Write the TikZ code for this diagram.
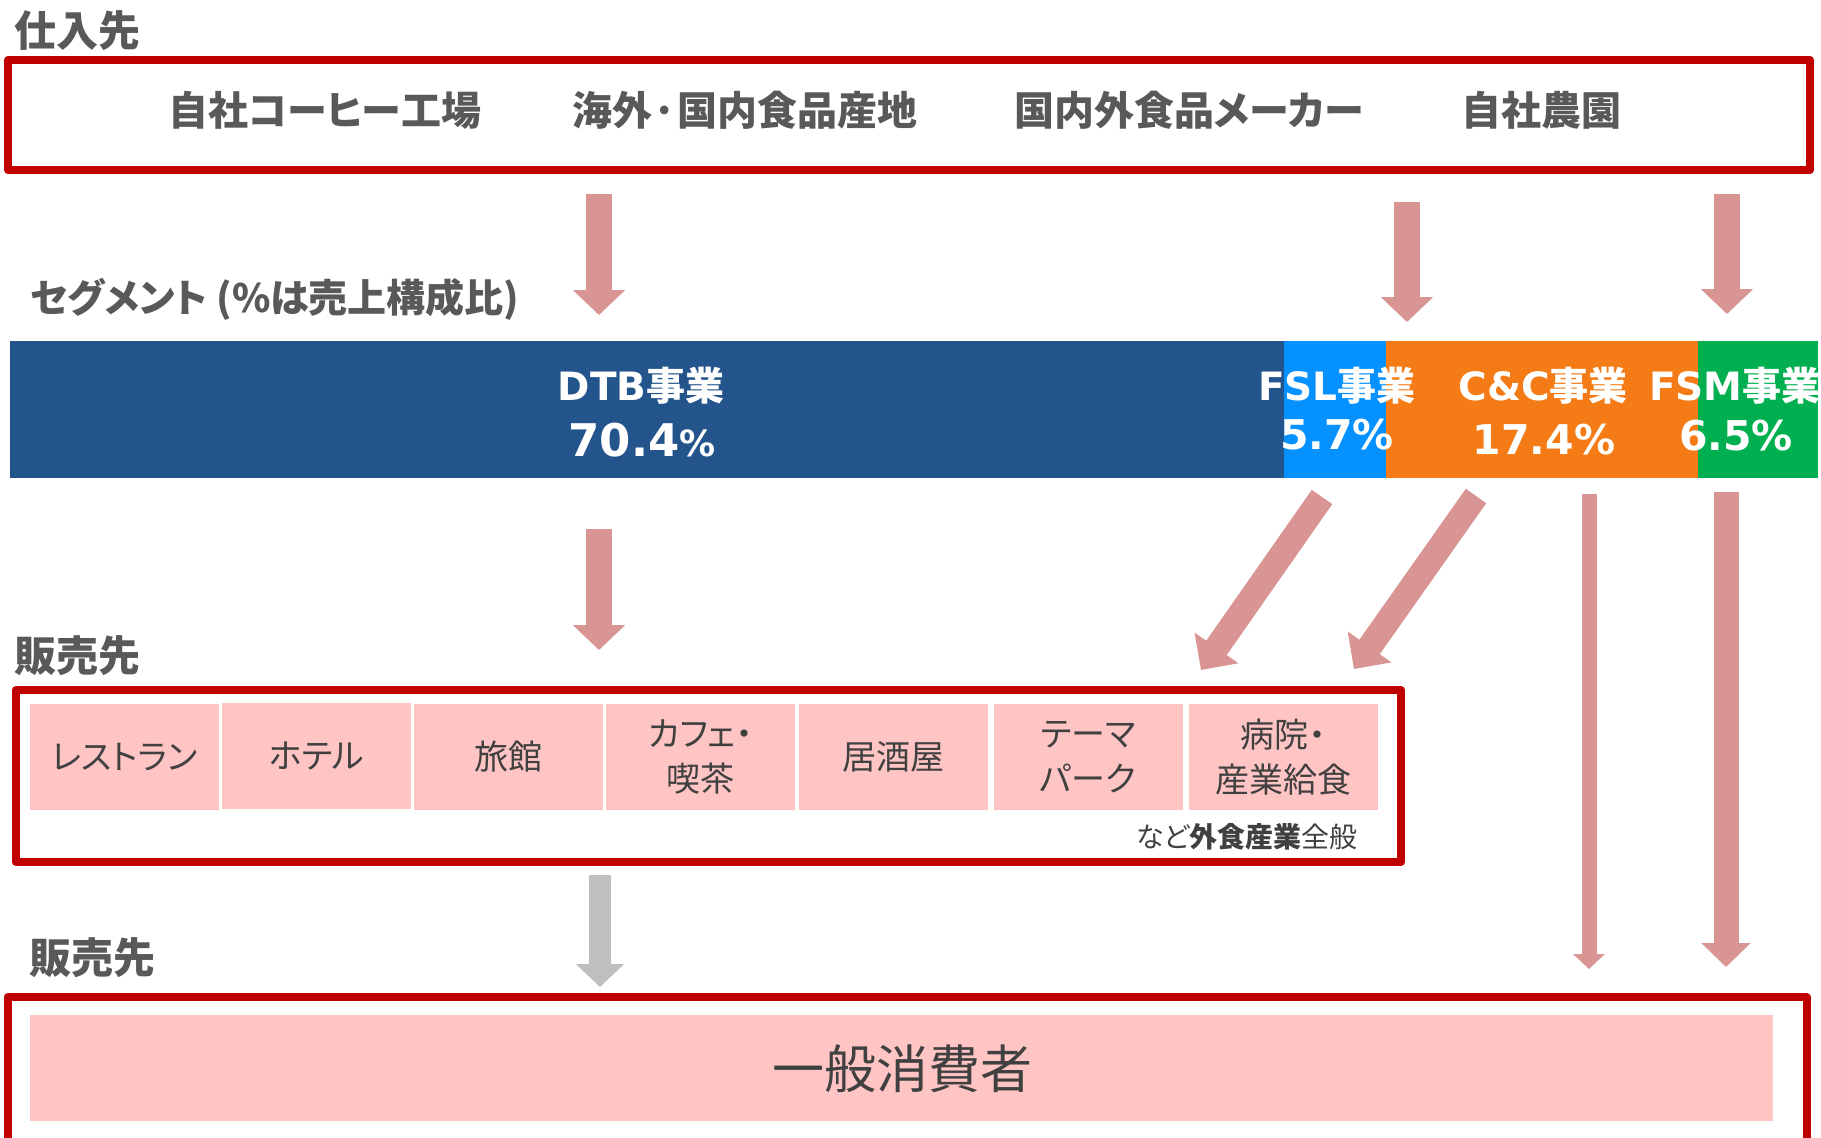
\documentclass[tikz,border=0pt]{standalone}
\usepackage{fontspec}
\setmainfont[RawFeature=+palt]{Noto Sans CJK JP}
\newfontfamily\dvfont{DejaVu Sans}
\usetikzlibrary{arrows.meta}
\definecolor{boxred}{HTML}{C00000}
\definecolor{arrpink}{HTML}{D99594}
\definecolor{arrgray}{HTML}{BFBFBF}
\definecolor{txtgray}{HTML}{595959}
\definecolor{txtdark}{HTML}{404040}
\definecolor{cellpink}{HTML}{FFC4C4}
\definecolor{dtbblue}{HTML}{23548C}
\definecolor{fslblue}{HTML}{0591FF}
\definecolor{ccorange}{HTML}{F47B16}
\definecolor{fsmgreen}{HTML}{00B050}
\tikzset{
  redbox/.style={draw=boxred, line width=8pt, line join=round},
  parrow/.style={draw=arrpink, line width=26pt, -{Triangle[width=51pt,length=25pt]}},
  darrow/.style={draw=arrpink, line width=25pt, -{Triangle[width=52pt,length=27pt]}},
  tarrow/.style={draw=arrpink, line width=15pt, -{Triangle[width=31pt,length=15pt]}},
  warrow/.style={draw=arrpink, line width=25pt, -{Triangle[width=48pt,length=24pt]}},
  garrow/.style={draw=arrgray, line width=22pt, -{Triangle[width=47pt,length=23pt]}},
  labtext/.style={inner sep=0pt, anchor=west, text=txtgray, font=\fontsize{42}{44}\selectfont\bfseries},
  suptext/.style={inner sep=0pt, text=txtgray, font=\fontsize{40}{42}\selectfont\bfseries},
  segtext/.style={inner sep=0pt, text=white, font=\fontsize{39}{41}\selectfont\bfseries},
  numtext/.style={inner sep=0pt, text=white, font=\dvfont\bfseries\fontsize{41}{43}\selectfont},
  cellbox/.style={fill=cellpink, minimum width=189pt, minimum height=106pt, inner sep=0pt,
    align=center, text=txtdark, font=\fontsize{34}{45}\selectfont},
}
\begin{document}
\begin{tikzpicture}[x=1pt,y=-1pt]
\clip (0,0) rectangle (1821,1138);
\fill[white] (0,0) rectangle (1821,1138);

% ---- suppliers ----
\node[labtext] (suplab) at (14,31) {仕入先};
\draw[redbox] (8,60) rectangle (1810,170);
\node[suptext] (sup1) at (325,110) {自社コーヒー工場};
\node[suptext] (sup2) at (745,110) {海外·国内食品産地};
\node[suptext] (sup3) at (1189,110) {国内外食品メーカー};
\node[suptext] (sup4) at (1541,110) {自社農園};

\coordinate (a1s) at (599,194);  \coordinate (a1e) at (599,315);
\coordinate (a2s) at (1407,202); \coordinate (a2e) at (1407,322);
\coordinate (a3s) at (1727,194); \coordinate (a3e) at (1727,314);
\draw[parrow] (a1s) -- (a1e);
\draw[parrow] (a2s) -- (a2e);
\draw[parrow] (a3s) -- (a3e);

% ---- segments ----
\node[labtext, font=\fontsize{39}{41}\selectfont\bfseries] (seglab) at (30,299) {セグメント (\%は売上構成比)};
\fill[dtbblue] (10,341) rectangle (1285,478);
\fill[fslblue] (1284,341) rectangle (1387,478);
\fill[ccorange] (1386,341) rectangle (1699,478);
\fill[fsmgreen] (1698,341) rectangle (1818,478);

\node[segtext] (dtbname) at (641,386) {{\dvfont DTB}事業};
\node[numtext] (dtbpct) at (642,440) {\fontsize{45}{47}\selectfont 70.4{\fontsize{36}{38}\selectfont\%}};
\node[segtext] (fslname) at (1337,386) {{\dvfont FSL}事業};
\node[numtext] (fslpct) at (1337,435) {5.7\%};
\node[segtext] (ccname) at (1543,386) {{\dvfont C\&C}事業};
\node[numtext] (ccpct) at (1544,440) {17.4\%};
\node[segtext] (fsmname) at (1735,386) {{\dvfont FSM}事業};
\node[numtext] (fsmpct) at (1736,436) {6.5\%};

% ---- arrows below bar ----
\coordinate (b1s) at (599,529);  \coordinate (b1e) at (599,650);
\coordinate (d1s) at (1322,497); \coordinate (d1e) at (1201,670);
\coordinate (d2s) at (1476,496); \coordinate (d2e) at (1354,669);
\coordinate (t1s) at (1589,494); \coordinate (t1e) at (1589,969);
\coordinate (t2s) at (1726,492); \coordinate (t2e) at (1726,967);
\draw[parrow] (b1s) -- (b1e);
\draw[darrow] (d1s) -- (d1e);
\draw[darrow] (d2s) -- (d2e);
\draw[tarrow] (t1s) -- (t1e);
\draw[warrow] (t2s) -- (t2e);

% ---- customers (food service) ----
\node[labtext] (custlab1) at (14,656) {販売先};
\draw[redbox] (16,690) rectangle (1401,862);
\node[cellbox] (c1) at (124.5,757) {レストラン};
\node[cellbox] (c2) at (316.5,756) {ホテル};
\node[cellbox] (c3) at (508,757) {旅館};
\node[cellbox] (c4) at (700.5,757) {カフェ・\\喫茶};
\node[cellbox] (c5) at (893.5,757) {居酒屋};
\node[cellbox] (c6) at (1088,757) {テーマ\\パーク};
\node[cellbox] (c7) at (1283,757) {病院・\\産業給食};
\node[inner sep=0pt, anchor=east, text=txtdark, font=\fontsize{28}{30}\selectfont] (note) at (1358,837) {など{\bfseries 外食産業}全般};

\coordinate (g1s) at (600,875); \coordinate (g1e) at (600,987);
\draw[garrow] (g1s) -- (g1e);

% ---- general consumers ----
\node[labtext] (custlab2) at (29,958) {販売先};
\draw[redbox] (7.5,997) rectangle (1806.5,1170);
\fill[cellpink] (30,1015) rectangle (1773,1121);
\node[inner sep=0pt, text=txtdark, font=\fontsize{52}{56}\selectfont] (cons) at (902,1069) {一般消費者};
\end{tikzpicture}
\end{document}
